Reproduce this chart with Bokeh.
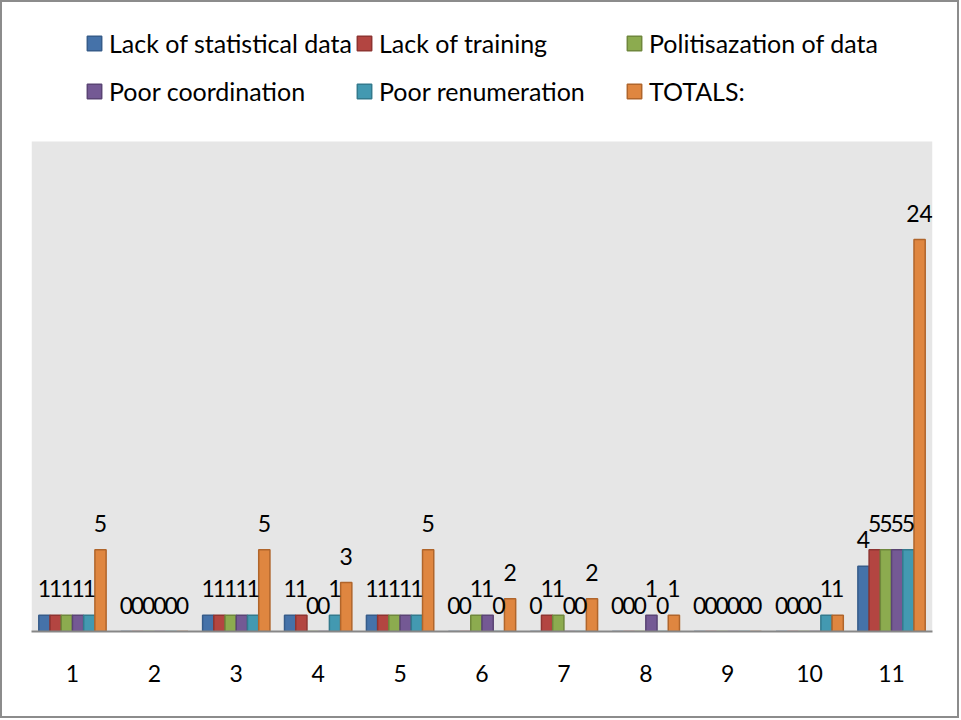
from bokeh.plotting import figure
from bokeh.models import ColumnDataSource, FactorRange, Range1d, Legend, LegendItem, LabelSet, BoxAnnotation
from bokeh.core.properties import value
from bokeh.transform import dodge
from bokeh.embed import file_html
from bokeh.resources import INLINE

categories = ["1", "2", "3", "4", "5", "6", "7", "8", "9", "10", "11"]
series_names = ["Lack of statistical data", "Lack of training", "Politisazation of data",
                "Poor coordination", "Poor renumeration", "TOTALS:"]
lack_of_statistical_data = [1, 0, 1, 1, 1, 0, 0, 0, 0, 0, 4]
lack_of_training = [1, 0, 1, 1, 1, 0, 1, 0, 0, 0, 5]
politisazation_of_data = [1, 0, 1, 0, 1, 1, 1, 0, 0, 0, 5]
poor_coordination = [1, 0, 1, 0, 1, 1, 0, 1, 0, 0, 5]
poor_renumeration = [1, 0, 1, 1, 1, 0, 0, 0, 0, 1, 5]
totals = [5, 0, 5, 3, 5, 2, 2, 1, 0, 1, 24]

series_values = [lack_of_statistical_data, lack_of_training, politisazation_of_data,
                 poor_coordination, poor_renumeration, totals]
fill_colors = ["#4572A9", "#B34541", "#8CAB4F", "#745994", "#4399B1", "#DF8640"]
line_colors = ["#365C8A", "#8E3431", "#6F873C", "#5A4474", "#337A8D", "#B0652B"]

FONT = "Lato"
y_axis_max = 30                      # top of the grey plotting area (value units)
frame_px, plot_px = 615, 490         # frame height vs grey plot-area height (pixels)

p = figure(width=959, height=718, x_range=FactorRange(*categories),
           y_range=Range1d(0, y_axis_max * frame_px / plot_px),
           output_backend="svg", toolbar_location=None, y_axis_location=None,
           min_border_left=29, min_border_right=29, min_border_top=14, min_border_bottom=89,
           background_fill_color="white", border_fill_color="white", outline_line_color=None)
p.styles = {"border": "2px solid #8C8C8C"}

p.add_layout(BoxAnnotation(top=y_axis_max, fill_color="#E6E6E6", fill_alpha=1.0,
                           line_color=None, level="underlay"))

bar_w = 0.137
items = []
for i, (name, vals) in enumerate(zip(series_names, series_values)):
    src = ColumnDataSource(dict(cat=categories, val=vals, txt=[str(v) for v in vals]))
    off = (i - 2.5) * bar_w
    r = p.vbar(x=dodge("cat", off, range=p.x_range), top="val", width=bar_w, source=src,
               fill_color=fill_colors[i], line_color=line_colors[i], line_width=1.5)
    items.append(LegendItem(label=name, renderers=[r]))
    labels = LabelSet(x=dodge("cat", off, range=p.x_range), y="val", text="txt", source=src,
                      y_offset=18, text_align="center", text_baseline="alphabetic",
                      text_font=value(FONT), text_font_size=value("23px"), text_color="black")
    p.add_layout(labels)

legend = Legend(items=items, orientation="horizontal", ncols=3, location=(54, 516),
                glyph_width=18, glyph_height=18, label_standoff=6, label_width=246,
                label_height=48, spacing=0, padding=0, margin=0,
                label_text_font=FONT, label_text_font_size="25px", label_text_color="black",
                border_line_color=None, background_fill_alpha=0)
p.add_layout(legend, "center")

p.xgrid.grid_line_color = None
p.ygrid.grid_line_color = None
ax = p.xaxis[0]
ax.axis_line_color = "#878787"
ax.axis_line_width = 2
ax.major_tick_line_color = None
ax.minor_tick_line_color = None
ax.major_tick_out = 0
ax.major_tick_in = 0
ax.major_label_standoff = 33
ax.major_label_text_font = FONT
ax.major_label_text_font_size = "23px"
ax.major_label_text_color = "black"

open("out.html", "w").write(file_html(p, INLINE))
